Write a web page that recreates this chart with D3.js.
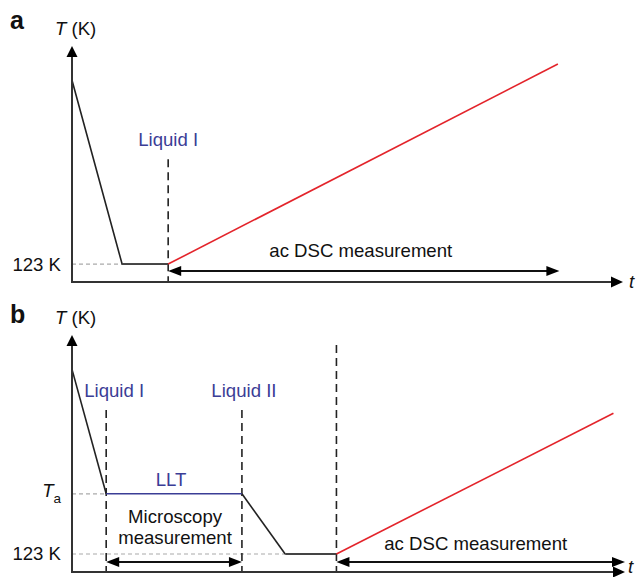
<!DOCTYPE html>
<html>
<head>
<meta charset="utf-8">
<script src="https://cdn.jsdelivr.net/npm/d3@7"></script>
<style>
  html, body { margin: 0; padding: 0; background: #fff; }
  text { font-family: "Liberation Sans", Arial, Helvetica, sans-serif; }
</style>
</head>
<body>
<svg id="chart" width="638" height="577"></svg>
<script>
// ---- Data (schematic units: time t 0..110, temperature T 0..100) ----
const T123 = 7.6;      // 123 K level
const Ta = 33;         // annealing temperature level
const TStart = 85.5;   // starting (melt) temperature

// Panel a
const aCooling = [[0, TStart], [10, T123], [19.2, T123]];
const aHeating = [[19.2, T123], [97, 92.4]];
const aMarkers = [{t: 19.2, top: 52, label: "Liquid I"}];
const aMeasure = [{t0: 19.2, t1: 97.3, label: ["ac DSC measurement"]}];

// Panel b
const bCooling = [[0, TStart], [6.8, Ta]];
const bHold = [[6.8, Ta], [33.8, Ta]];
const bQuench = [[33.8, Ta], [42.4, T123], [52.6, T123]];
const bHeating = [[52.6, T123], [107.7, 67]];
const bMarkers = [
  {t: 6.8, top: 68.4, label: "Liquid I"},
  {t: 33.8, top: 68.4, label: "Liquid II"},
  {t: 52.6, top: 95.8, label: null}
];
const bMeasure = [
  {t0: 6.8, t1: 33.8, label: ["Microscopy", "measurement"]},
  {t0: 52.6, t1: 110, label: ["ac DSC measurement"]}
];
const yTickLabelsA = [{T: T123, label: "123 K"}];
const yTickLabelsB = [{T: Ta, label: "Ta"}, {T: T123, label: "123 K"}];

// ---- Styling ----
const BLUE = "#3b3d96", RED = "#e3242b", DARK = "#222", AXIS = "#333", GREY = "#aaa";
const FS = 18.6;
const svg = d3.select("#chart");

function arrowHead(g, x, y, dir, len, hw, color) {
  let pts;
  if (dir === "right") pts = [[x, y], [x - len, y - hw], [x - len, y + hw]];
  else if (dir === "left") pts = [[x, y], [x + len, y - hw], [x + len, y + hw]];
  else pts = [[x, y], [x - hw, y + len], [x + hw, y + len]];
  g.append("path").attr("d", d3.line()(pts) + "Z").attr("fill", color);
}

function panel(opts) {
  const g = svg.append("g");
  const x = d3.scaleLinear().domain([0, 110]).range(opts.xr);
  const y = d3.scaleLinear().domain([0, 100]).range(opts.yr);
  const line = d3.line().x(d => x(d[0])).y(d => y(d[1]));

  opts.levels.forEach(l => {
    g.append("line").attr("x1", x(0)).attr("x2", x(l.t1)).attr("y1", y(l.T)).attr("y2", y(l.T))
      .attr("stroke", GREY).attr("stroke-width", 1.2).attr("stroke-dasharray", "4,3");
  });

  opts.markers.forEach(m => {
    g.append("line").attr("x1", x(m.t)).attr("x2", x(m.t)).attr("y1", y(m.top)).attr("y2", y(0))
      .attr("stroke", DARK).attr("stroke-width", 1.6).attr("stroke-dasharray", "8,5");
    if (m.label) {
      g.append("text").attr("x", x(m.t) + (m.dx || 0)).attr("y", y(m.top) - 13)
        .attr("text-anchor", "middle").attr("font-size", FS).attr("fill", BLUE).text(m.label);
    }
  });

  opts.paths.forEach(p => {
    g.append("path").attr("d", line(p.data)).attr("fill", "none")
      .attr("stroke", p.color).attr("stroke-width", p.w || 1.6).attr("stroke-linejoin", "miter");
  });

  g.append("line").attr("x1", x(0)).attr("x2", x(0)).attr("y1", y(0)).attr("y2", y(100) + 10)
    .attr("stroke", AXIS).attr("stroke-width", 2);
  arrowHead(g, x(0), y(100), "up", 11, 5.5, "#000");
  g.append("line").attr("x1", x(0) - 1).attr("x2", x(110) - 10).attr("y1", y(0)).attr("y2", y(0))
    .attr("stroke", AXIS).attr("stroke-width", 2);
  arrowHead(g, x(110), y(0), "right", 12, 5.5, "#000");

  const tk = g.append("text").attr("x", x(0) - 17).attr("y", y(100) - 11).attr("font-size", FS).attr("fill", "#111");
  tk.append("tspan").attr("font-style", "italic").text("T");
  tk.append("tspan").text(" (K)");
  g.append("text").attr("x", x(110) + opts.tDx).attr("y", y(0) + opts.tDy).attr("font-size", FS)
    .attr("font-style", "italic").attr("fill", "#111").text("t");
  g.append("text").attr("x", 10).attr("y", opts.letterY).attr("font-size", 25).attr("font-weight", "bold")
    .attr("fill", "#111").text(opts.letter);

  opts.ylabels.forEach(l => {
    if (l.label === "Ta") {
      const t = g.append("text").attr("x", 61).attr("y", y(l.T) + 3).attr("text-anchor", "end")
        .attr("font-size", FS).attr("fill", "#111");
      t.append("tspan").attr("font-style", "italic").text("T");
      t.append("tspan").attr("font-size", 13.5).attr("dy", 6).text("a");
    } else {
      g.append("text").attr("x", 61).attr("y", y(l.T) + 6.5).attr("text-anchor", "end")
        .attr("font-size", FS).attr("fill", "#111").text(l.label);
    }
  });

  opts.measures.forEach(m => {
    const yy = y(0) - opts.arrowOff;
    const x0 = x(m.t0), x1 = x(m.t1);
    g.append("line").attr("x1", x0 + 6).attr("x2", x1 - 6).attr("y1", yy).attr("y2", yy)
      .attr("stroke", "#111").attr("stroke-width", 2);
    arrowHead(g, x0, yy, "left", 13, 5, "#000");
    arrowHead(g, x1, yy, "right", 13, 5, "#000");
    const cx = (x0 + x1) / 2 + (m.dx || 0);
    m.label.forEach((s, i) => {
      g.append("text").attr("x", cx).attr("y", m.ly + i * 20.5).attr("text-anchor", "middle")
        .attr("font-size", FS).attr("fill", "#111").text(s);
    });
  });

  return {g, x, y};
}

panel({
  xr: [72, 623], yr: [282, 46], letter: "a", letterY: 29, tDx: 6, tDy: 6,
  levels: [{T: T123, t1: 10}],
  markers: aMarkers,
  paths: [{data: aCooling, color: DARK}, {data: [aCooling[1], aCooling[2]], color: "#444", w: 1.8},
          {data: aHeating, color: RED}],
  ylabels: yTickLabelsA,
  measures: aMeasure.map(m => Object.assign({}, m, {ly: 257, dx: -3})),
  arrowOff: 11
});

const pb = panel({
  xr: [72, 625], yr: [572, 335], letter: "b", letterY: 323, tDx: 3, tDy: 1,
  levels: [{T: Ta, t1: 6.8}, {T: T123, t1: 42.4}],
  markers: bMarkers.map((m, i) => Object.assign({}, m, {dx: i === 0 ? 8 : 2})),
  paths: [{data: bCooling, color: DARK}, {data: bHold, color: BLUE},
          {data: [bQuench[0], bQuench[1]], color: DARK}, {data: [bQuench[1], bQuench[2]], color: "#444", w: 1.8},
          {data: bHeating, color: RED}],
  ylabels: yTickLabelsB,
  measures: bMeasure.map((m, i) => Object.assign({}, m, {ly: i === 0 ? 523 : 550, dx: i === 0 ? 1 : -5})),
  arrowOff: 10
});

pb.g.append("text").attr("x", (pb.x(bHold[0][0]) + pb.x(bHold[1][0])) / 2 - 3).attr("y", pb.y(Ta) - 8)
  .attr("text-anchor", "middle").attr("font-size", FS).attr("fill", BLUE).text("LLT");
</script>
</body>
</html>
